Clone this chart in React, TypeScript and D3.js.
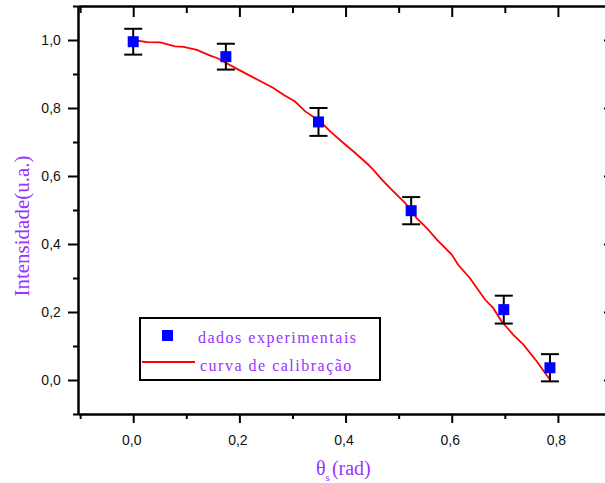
import { useRef, useEffect } from 'react';
import * as d3 from 'd3';

// measured points (rad, intensity) with error bars
const thetaData = [0, 0.1745, 0.349, 0.5236, 0.698, 0.785];
const intensityData = [0.995, 0.951, 0.759, 0.498, 0.207, 0.036];
const errData = [0.038, 0.038, 0.041, 0.04, 0.041, 0.04];

// calibration curve
const curveTheta = [0, 0.026, 0.051, 0.079, 0.095, 0.12, 0.145, 0.158, 0.192, 0.226, 0.264, 0.283, 0.305, 0.324, 0.352, 0.371, 0.396, 0.415, 0.443, 0.452, 0.468, 0.49, 0.512, 0.534, 0.553, 0.572, 0.6, 0.612, 0.634, 0.663, 0.678, 0.694, 0.716, 0.735, 0.76, 0.785];
const curveI = [1.0, 0.994, 0.993, 0.981, 0.98, 0.971, 0.954, 0.947, 0.918, 0.89, 0.859, 0.839, 0.819, 0.79, 0.761, 0.731, 0.697, 0.672, 0.633, 0.619, 0.59, 0.555, 0.521, 0.476, 0.447, 0.413, 0.369, 0.339, 0.3, 0.236, 0.212, 0.172, 0.133, 0.104, 0.055, 0.001];

const xMajor = [0, 0.2, 0.4, 0.6, 0.8];
const xMinor = [-0.1, 0.1, 0.3, 0.5, 0.7, 0.9];
const yMajor = [0, 0.2, 0.4, 0.6, 0.8, 1.0];
const yMinor = [-0.1, 0.1, 0.3, 0.5, 0.7, 0.9, 1.1];

const legendLabels = ['dados experimentais', 'curva de calibração'];

const W = 605;
const H = 483;
const PURPLE = '#9933ff';
const SERIF = '"Liberation Serif", "Times New Roman", serif';

export default function App() {
  const svgRef = useRef<SVGSVGElement>(null);

  useEffect(() => {
    const svg = d3.select(svgRef.current);
    svg.selectAll('*').remove();

    const x = d3.scaleLinear().domain([-0.104, 0.9]).range([78, 611]);
    const y = d3.scaleLinear().domain([-0.1, 1.1]).range([414, 6]);
    const fmt = (v: number) => d3.format('.1f')(v).replace('.', ',');

    // bottom axis
    const bottom = svg.append('g').attr('transform', 'translate(0,' + y(-0.1) + ')');
    bottom.call(d3.axisBottom(x).tickValues(xMajor).tickSize(9).tickSizeOuter(0).tickFormat(fmt as any));
    bottom.append('g').call(d3.axisBottom(x).tickValues(xMinor).tickSize(5).tickSizeOuter(0).tickFormat(() => ''));

    // top axis, inward ticks
    const top = svg.append('g').attr('transform', 'translate(0,' + y(1.1) + ')');
    top.call(d3.axisBottom(x).tickValues(xMajor).tickSize(11).tickSizeOuter(0).tickFormat(() => ''));
    top.append('g').call(d3.axisBottom(x).tickValues(xMinor).tickSize(7).tickSizeOuter(0).tickFormat(() => ''));

    // left axis
    const left = svg.append('g').attr('transform', 'translate(' + x(-0.104) + ',0)');
    left.call(d3.axisLeft(y).tickValues(yMajor).tickSize(10).tickSizeOuter(0).tickFormat(fmt as any));
    left.append('g').call(d3.axisLeft(y).tickValues(yMinor).tickSize(5).tickSizeOuter(0).tickFormat(() => ''));

    // right axis, inward ticks
    const right = svg.append('g').attr('transform', 'translate(' + x(0.9) + ',0)');
    right.call(d3.axisRight(y).tickValues(yMajor).tickSize(-7).tickSizeOuter(0).tickFormat(() => ''));

    svg.selectAll('.domain').attr('stroke-width', 2).attr('stroke', '#000');
    svg.selectAll('.tick line').attr('stroke-width', 2).attr('stroke', '#000');
    svg.selectAll('.tick text')
      .attr('font-family', '"Liberation Sans", Arial, sans-serif')
      .attr('font-size', 14)
      .attr('fill', '#111');
    bottom.selectAll('.tick text').attr('dy', '1.35em').attr('dx', '-2');
    left.selectAll('.tick text').attr('dx', '-0.3em');

    // calibration curve
    const line = d3.line<number>()
      .x((d, i) => x(curveTheta[i]))
      .y((d) => y(d));
    svg.append('path')
      .datum(curveI)
      .attr('d', line)
      .attr('fill', 'none')
      .attr('stroke', '#ff0000')
      .attr('stroke-width', 1.8);

    // error bars
    const eb = svg.append('g').attr('stroke', '#000').attr('stroke-width', 2);
    thetaData.forEach((t, i) => {
      const cx = x(t);
      const y1 = y(intensityData[i] + errData[i]);
      const y2 = y(intensityData[i] - errData[i]);
      eb.append('line').attr('x1', cx).attr('x2', cx).attr('y1', y1).attr('y2', y2);
      eb.append('line').attr('x1', cx - 9).attr('x2', cx + 9).attr('y1', y1).attr('y2', y1);
      eb.append('line').attr('x1', cx - 9).attr('x2', cx + 9).attr('y1', y2).attr('y2', y2);
    });

    // markers
    svg.append('g').selectAll('rect')
      .data(thetaData)
      .join('rect')
      .attr('x', (d) => x(d) - 5.5)
      .attr('y', (d, i) => y(intensityData[i]) - 5.5)
      .attr('width', 11)
      .attr('height', 11)
      .attr('fill', '#0000ff');

    // legend
    const lg = svg.append('g');
    lg.append('rect')
      .attr('x', 140).attr('y', 318).attr('width', 240).attr('height', 62)
      .attr('fill', '#fff').attr('stroke', '#000').attr('stroke-width', 2);
    lg.append('rect').attr('x', 162).attr('y', 330).attr('width', 11).attr('height', 11).attr('fill', '#0000ff');
    lg.append('line').attr('x1', 142).attr('x2', 195).attr('y1', 362).attr('y2', 362)
      .attr('stroke', '#ff0000').attr('stroke-width', 2);
    lg.selectAll('text')
      .data(legendLabels)
      .join('text')
      .attr('x', (d, i) => (i === 0 ? 198 : 200))
      .attr('y', (d, i) => (i === 0 ? 343 : 371))
      .attr('font-family', SERIF)
      .attr('font-size', 16)
      .attr('letter-spacing', 1.5)
      .attr('fill', PURPLE)
      .text((d) => d);

    // axis titles
    svg.append('text')
      .attr('transform', 'translate(29,226) rotate(-90)')
      .attr('text-anchor', 'middle')
      .attr('font-family', SERIF)
      .attr('font-size', 21)
      .attr('fill', PURPLE)
      .text('Intensidade(u.a.)');

    const xt = svg.append('text')
      .attr('x', 316)
      .attr('y', 475)
      .attr('font-family', SERIF)
      .attr('font-size', 20)
      .attr('fill', PURPLE);
    xt.append('tspan').text('θ');
    xt.append('tspan').attr('font-size', 11).attr('dy', 6).text('s');
    xt.append('tspan').attr('dy', -6).attr('dx', 2).text('(rad)');
  }, []);

  return (
    <svg
      ref={svgRef}
      width={W}
      height={H}
      style={{ position: 'absolute', left: 0, top: 0, background: '#fff' }}
    />
  );
}
